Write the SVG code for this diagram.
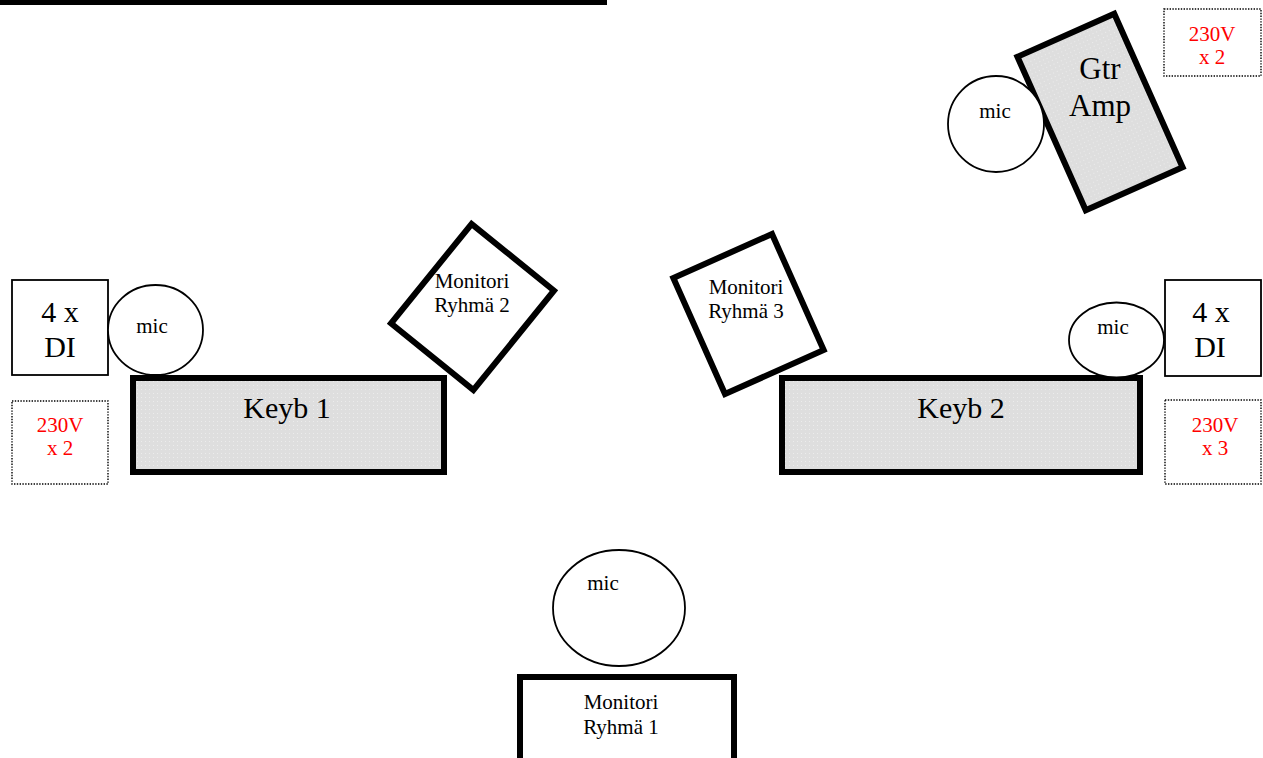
<svg xmlns="http://www.w3.org/2000/svg" width="1263" height="758" viewBox="0 0 1263 758">
<defs>
<pattern id="dots" width="4" height="4" patternUnits="userSpaceOnUse">
<rect width="4" height="4" fill="#dedede"/>
<rect x="1" y="1" width="1" height="1" fill="#ececec"/>
</pattern>
</defs>
<style>
text{font-family:"Liberation Serif","Times New Roman",serif;fill:#000;text-anchor:middle}
.big{font-size:30px}
.mid{font-size:21px}
.red{fill:#ff0000;font-size:21px}
.thick{fill:#fff;stroke:#000;stroke-width:6}
.grey{fill:url(#dots);stroke:#000;stroke-width:6}
.thin{fill:#fff;stroke:#000;stroke-width:1.8}
.dot{fill:#fff;stroke:#000;stroke-width:1.4;stroke-dasharray:1.4 1.4}
</style>
<rect x="0" y="0" width="607" height="5" fill="#000"/>
<g id="gtr-amp">
<rect class="grey" x="-53" y="-84" width="106" height="168" transform="translate(1100,112) rotate(-24)"/>
<text class="big" x="1100" y="79" style="font-size:31px">Gtr</text>
<text class="big" x="1100" y="116" style="font-size:31px">Amp</text>
</g>
<g id="mic-gtr">
<circle class="thin" cx="996" cy="124" r="48"/>
<text class="mid" x="995" y="118">mic</text>
</g>
<g id="power-top">
<rect class="dot" x="1164" y="9" width="97" height="67"/>
<text class="red" x="1212" y="41">230V</text>
<text class="red" x="1212" y="64">x 2</text>
</g>
<g id="di-left">
<rect class="thin" x="12" y="280" width="96" height="95"/>
<text class="big" x="60" y="322">4 x</text>
<text class="big" x="60" y="357">DI</text>
</g>
<g id="mic-left">
<ellipse class="thin" cx="155.5" cy="330" rx="47.5" ry="45"/>
<text class="mid" x="152" y="333">mic</text>
</g>
<g id="keyb1">
<rect class="grey" x="133" y="378" width="311" height="94"/>
<text class="big" x="287" y="418">Keyb 1</text>
</g>
<g id="power-left">
<rect class="dot" x="12" y="401" width="96" height="83"/>
<text class="red" x="60" y="432">230V</text>
<text class="red" x="60" y="455">x 2</text>
</g>
<g id="monitor2">
<rect class="thick" x="-53" y="-64" width="106" height="128" transform="translate(472.5,307) rotate(39)"/>
<text class="mid" x="472" y="288">Monitori</text>
<text class="mid" x="472" y="312">Ryhmä 2</text>
</g>
<g id="monitor3">
<rect class="thick" x="-54" y="-63.5" width="108" height="127" transform="translate(748.5,314) rotate(-24)"/>
<text class="mid" x="746" y="294">Monitori</text>
<text class="mid" x="746" y="318">Ryhmä 3</text>
</g>
<g id="keyb2">
<rect class="grey" x="782" y="378" width="358" height="94"/>
<text class="big" x="961" y="418">Keyb 2</text>
</g>
<g id="mic-right">
<ellipse class="thin" cx="1116.5" cy="340" rx="47.5" ry="37.5"/>
<text class="mid" x="1113" y="334">mic</text>
</g>
<g id="di-right">
<rect class="thin" x="1165" y="280" width="96" height="96"/>
<text class="big" x="1211" y="322">4 x</text>
<text class="big" x="1210" y="357">DI</text>
</g>
<g id="power-right">
<rect class="dot" x="1165" y="400" width="96" height="84"/>
<text class="red" x="1215" y="432">230V</text>
<text class="red" x="1215" y="455">x 3</text>
</g>
<g id="mic-center">
<ellipse class="thin" cx="619" cy="608" rx="66" ry="58"/>
<text class="mid" x="603" y="590">mic</text>
</g>
<g id="monitor1">
<rect class="thick" x="520" y="677" width="214" height="92"/>
<text class="mid" x="621" y="709">Monitori</text>
<text class="mid" x="621" y="734">Ryhmä 1</text>
</g>
</svg>
